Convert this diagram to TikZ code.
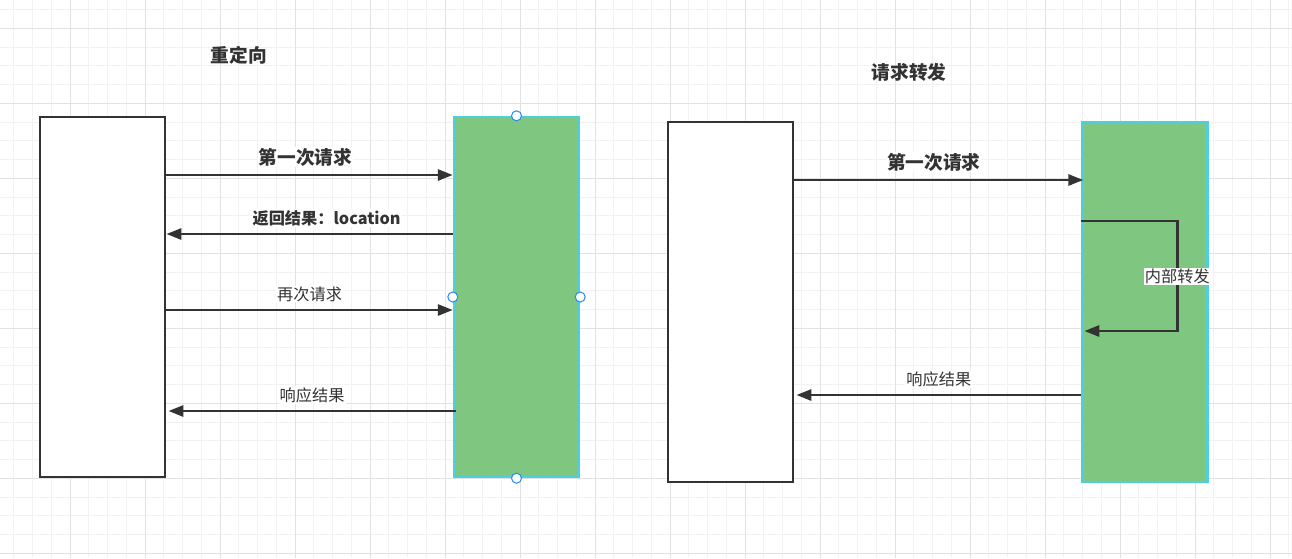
\documentclass[tikz,border=0pt]{standalone}
\usepackage{fontspec}
\setmainfont{Noto Sans CJK SC}
\usetikzlibrary{arrows.meta}
\definecolor{ink}{HTML}{333333}
\definecolor{srvgreen}{HTML}{7FC781}
\definecolor{srvedge}{HTML}{4DCFE0}
\definecolor{handle}{HTML}{2A86F0}
\definecolor{gridminor}{HTML}{F2F2F2}
\definecolor{gridmajor}{HTML}{E2E2E2}

\begin{document}
\begin{tikzpicture}[
  x=1pt, y=-1pt,
  every node/.style={inner sep=1pt, text=ink},
  client/.style={draw=ink, line width=2.8pt, fill=white, minimum width=125pt, minimum height=360pt},
  server/.style={draw=srvedge, line width=2.4pt, fill=srvgreen, minimum width=125pt, minimum height=360pt},
  msg/.style={draw=ink, line width=2.8pt, -{Triangle[length=15pt,width=11pt]}},
  big/.style={font=\fontsize{18.7}{22}\selectfont\bfseries},
  lbl/.style={fill=white, font=\fontsize{16.2}{19}\selectfont},
  lblb/.style={fill=white, font=\fontsize{16.2}{19}\selectfont\bfseries},
  knob/.style={circle, draw=handle, line width=1pt, fill=white, minimum size=10pt, inner sep=0pt},
]
\useasboundingbox (0,0) rectangle (1292,558);
\fill[white] (0,0) rectangle (1292,558);
% background grid
\foreach \k in {0,...,68} {
  \pgfmathsetmacro{\gx}{13.75+18.75*\k}
  \draw[gridminor, line width=1pt] (\gx,0) -- (\gx,558);
}
\foreach \k in {0,...,29} {
  \pgfmathsetmacro{\gy}{9.55+18.75*\k}
  \draw[gridminor, line width=1pt] (0,\gy) -- (1292,\gy);
}
\foreach \k in {0,...,17} {
  \pgfmathsetmacro{\gx}{70+75*(\k-1)}
  \draw[gridmajor, line width=1pt] (\gx,0) -- (\gx,558);
}
\foreach \k in {0,...,7} {
  \pgfmathsetmacro{\gy}{28.3+75*\k}
  \draw[gridmajor, line width=1pt] (0,\gy) -- (1292,\gy);
}

% redirect
\node[big] (t1) at (239,55) {重定向};
\node[client] (c1) at (102.5,297) {};
\node[server] (s1) at (516.5,297) {};
\draw[msg] (c1.east |- 0,175) -- node[big, fill=white, yshift=18pt, xshift=-4pt] {第一次请求} (s1.west |- 0,175);
\draw[msg] (s1.west |- 0,234) -- node[lblb, yshift=16pt, xshift=17pt] {返回结果：location} (c1.east |- 0,234);
\draw[msg] (c1.east |- 0,310) -- node[lbl, yshift=16pt] {再次请求} (s1.west |- 0,310);
\draw[msg] ([xshift=3pt]s1.west |- 0,411) -- node[lbl, yshift=16pt] {响应结果} ([xshift=2pt]c1.east |- 0,411);
% selection handles
\foreach \a in {north, west, east, south}
  \node[knob] at (s1.\a) {};

% forward
\node[big] (t2) at (909,72) {请求转发};
\node[client] (c2) at (730.5,302) {};
\node[server] (s2) at (1145,302) {};
\draw[msg] (c2.east |- 0,180) -- node[big, fill=white, yshift=18pt, xshift=-5pt] {第一次请求} ([xshift=2pt]s2.west |- 0,180);
\draw[msg] (s2.west |- 0,221) -- ++(96,0) -- node[lbl] {内部转发} ++(0,110) -- ([xshift=3pt]s2.west |- 0,331);
\draw[msg] (s2.west |- 0,395) -- node[lbl, yshift=16pt] {响应结果} ([xshift=2pt]c2.east |- 0,395);
\end{tikzpicture}
\end{document}
